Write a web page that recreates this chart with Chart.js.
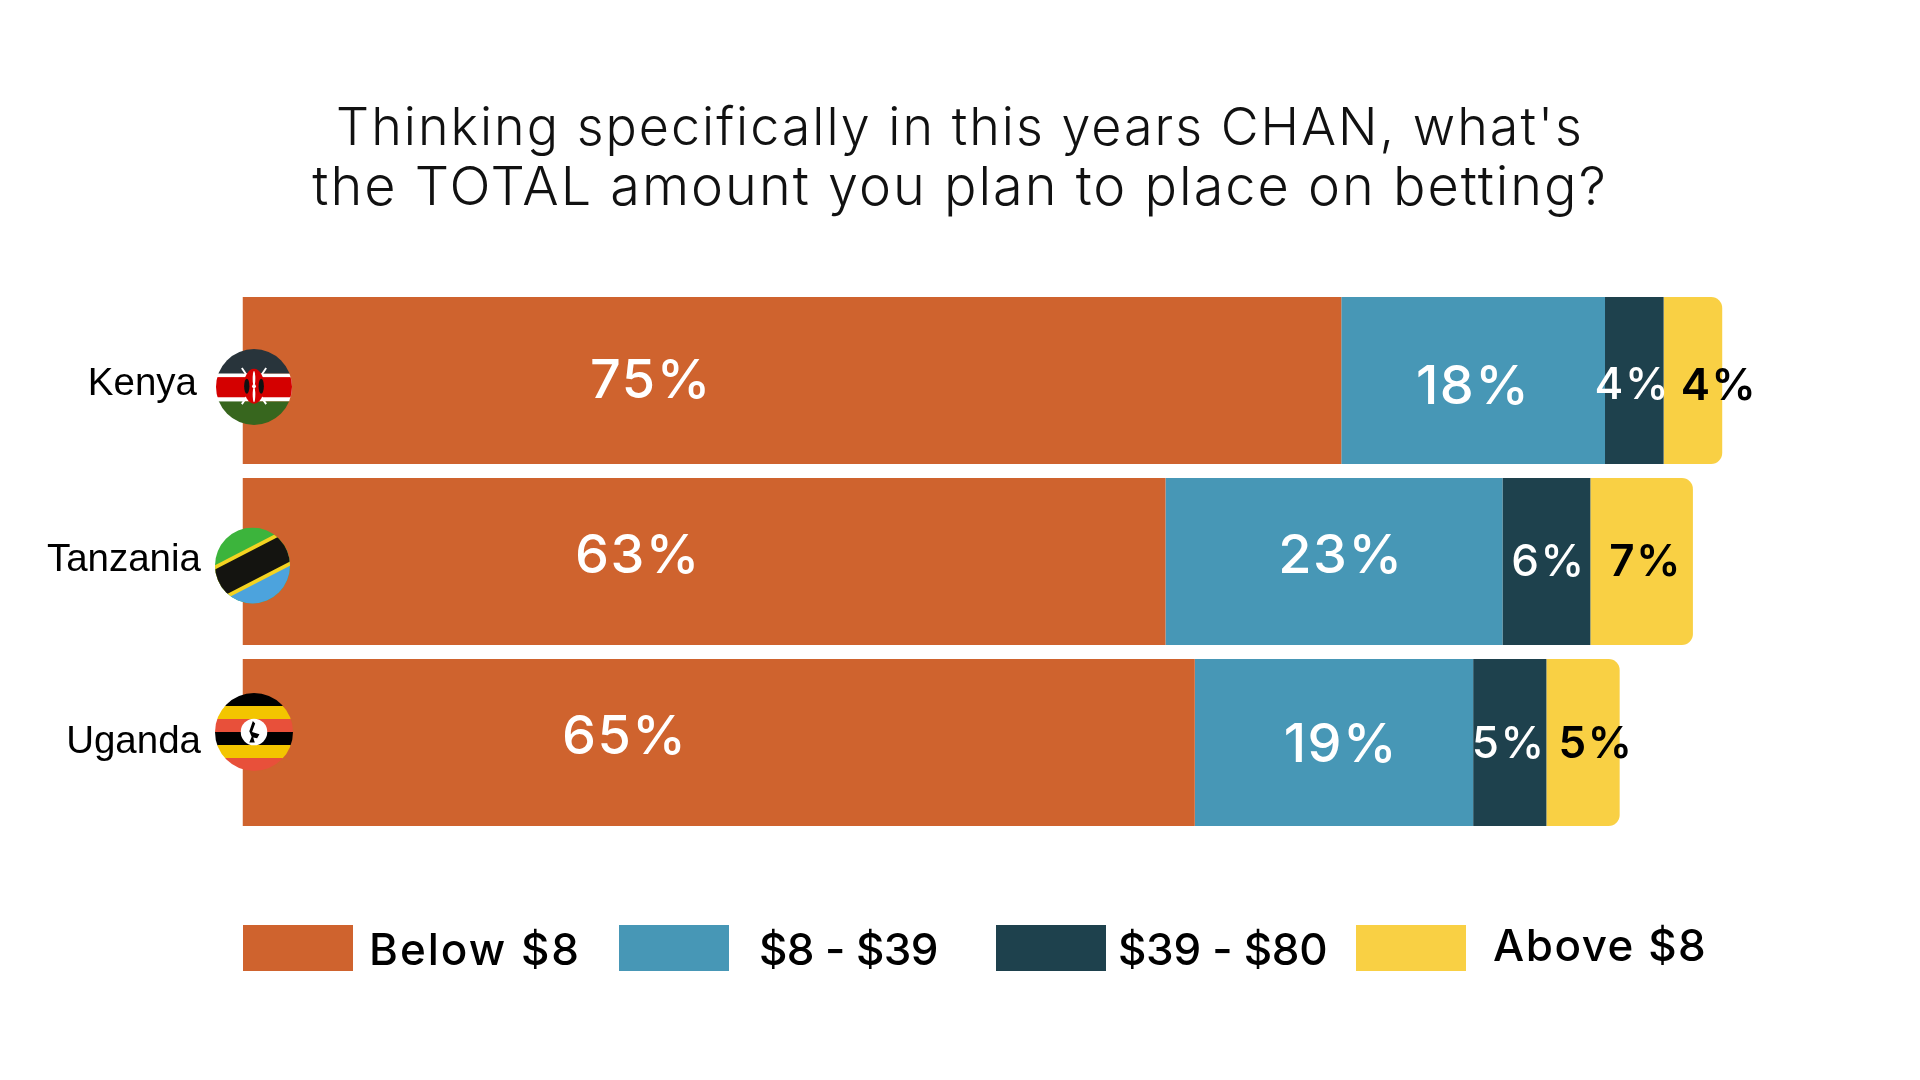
<!DOCTYPE html>
<html>
<head>
<meta charset="utf-8">
<title>CHAN betting</title>
<script src="https://cdn.jsdelivr.net/npm/chart.js@4/dist/chart.umd.min.js"></script>
<style>
    html, body { margin: 0; padding: 0; background: #fff; }
    canvas { display: block; }
</style>
</head>
<body>
<canvas id="betChart" width="1920" height="1080"></canvas>
<script>
// values
const countries = ['Kenya', 'Tanzania', 'Uganda'];
const bandNames = ['Below $8', '$8 - $39', '$39 - $80', 'Above $8'];
const below8 = [75, 63, 65];
const from8to39 = [18, 23, 19];
const from39to80 = [4, 6, 5];
const above8 = [4, 7, 5];

const bandColors = ['#CF632E', '#4797B6', '#1E414D', '#F9D044'];
const labelColors = ['#fff', '#fff', '#fff', '#000'];
const labelWeights = [500, 500, 500, 600];
const labelSizes = [54, 54, 44, 44];

// the labels are not centred in the source, so [dx, dy] per band per country
const labelNudge = [
    [[-141, 1], [0, 7], [-2, 5], [26, 6]],
    [[-66, -5], [7, -5], [2, 1], [4, 1]],
    [[-94, -5], [7, 3], [-1, 2], [13, 2]],
];
const tickNudge = [[-3, 3.5], [1, -1.5], [1, -0.5]];
const legendBoxX = [243, 619, 996, 1356];
const legendTextX = [369, 759, 1118, 1493];
const legendBaseline = [965, 965, 965, 961];
const legendSpacing = [2, -0.6, -0.3, 1.5];

const headingFont = 'Inter';

const flagPainters = {
    Kenya(ctx) {
        ctx.fillStyle = '#28343B'; ctx.fillRect(-1, -1, 2, 0.65);
        ctx.fillStyle = '#fff'; ctx.fillRect(-1, -0.35, 2, 0.73);
        ctx.fillStyle = '#D40000'; ctx.fillRect(-1, -0.26, 2, 0.53);
        ctx.fillStyle = '#37661E'; ctx.fillRect(-1, 0.38, 2, 0.62);
        // spears and shield
        ctx.strokeStyle = '#fff'; ctx.lineWidth = 0.05;
        ctx.beginPath();
        ctx.moveTo(-0.32, -0.5); ctx.lineTo(0.32, 0.45);
        ctx.moveTo(0.32, -0.5); ctx.lineTo(-0.32, 0.45);
        ctx.stroke();
        ctx.fillStyle = '#D40000';
        ctx.beginPath(); ctx.ellipse(0, -0.02, 0.27, 0.46, 0, 0, Math.PI * 2); ctx.fill();
        ctx.fillStyle = '#111';
        ctx.beginPath(); ctx.ellipse(-0.19, -0.02, 0.07, 0.2, 0, 0, Math.PI * 2); ctx.fill();
        ctx.beginPath(); ctx.ellipse(0.19, -0.02, 0.07, 0.2, 0, 0, Math.PI * 2); ctx.fill();
        ctx.fillStyle = '#fff';
        ctx.beginPath(); ctx.ellipse(0, -0.22, 0.035, 0.2, 0, 0, Math.PI * 2); ctx.fill();
        ctx.beginPath(); ctx.ellipse(0, 0.2, 0.035, 0.2, 0, 0, Math.PI * 2); ctx.fill();
        ctx.beginPath(); ctx.arc(0, -0.02, 0.05, 0, Math.PI * 2); ctx.fill();
    },
    Tanzania(ctx) {
        ctx.fillStyle = '#3CB43C'; ctx.fillRect(-1, -1, 2, 2);
        ctx.rotate(-27 * Math.PI / 180);
        ctx.fillStyle = '#4CA3DD'; ctx.fillRect(-2, 0, 4, 2);
        ctx.fillStyle = '#F4D321'; ctx.fillRect(-2, -0.46, 4, 0.92);
        ctx.fillStyle = '#141410'; ctx.fillRect(-2, -0.36, 4, 0.72);
    },
    Uganda(ctx) {
        const stripes = ['#000', '#F3C500', '#E8503A'];
        for (let i = 0; i < 6; i++) {
            ctx.fillStyle = stripes[i % 3];
            ctx.fillRect(-1, -1 + i / 3, 2, 1 / 3 + 0.01);
        }
        ctx.fillStyle = '#fff';
        ctx.beginPath(); ctx.arc(0, 0, 0.34, 0, Math.PI * 2); ctx.fill();
        ctx.fillStyle = '#000';
        ctx.beginPath();
        ctx.moveTo(-0.03, -0.28); ctx.lineTo(0.03, -0.22); ctx.lineTo(-0.05, 0);
        ctx.lineTo(0.14, 0.06); ctx.lineTo(0.08, 0.16); ctx.lineTo(-0.02, 0.14);
        ctx.lineTo(0.02, 0.27); ctx.lineTo(-0.12, 0.27); ctx.lineTo(-0.06, 0.12);
        ctx.lineTo(-0.12, -0.02);
        ctx.closePath();
        ctx.fill();
    },
};
const flagSpots = { Kenya: [254, 387, 38, 38], Tanzania: [252.5, 565.5, 37.5, 38], Uganda: [254, 732, 39, 39] };

// the heading face is wider than Inter, so open the title text up a little
const wideTitle = {
    id: 'wideTitle',
    afterLayout(chart) {
        chart.boxes.filter((box) => box.options && box.options.text).forEach((box) => {
            if (box.widened) return;
            const draw = box.draw.bind(box);
            box.draw = (area) => {
                box.ctx.letterSpacing = '2px';
                draw(area);
                box.ctx.letterSpacing = '0px';
            };
            box.widened = true;
        });
    },
};

// push the country tick labels to where the source has them
const tickLabelShift = {
    id: 'tickLabelShift',
    beforeDraw(chart) {
        chart.scales.y.getLabelItems().forEach((item, i) => {
            if (item.shifted) return;
            item.options.translation[0] += tickNudge[i][0];
            item.options.translation[1] += tickNudge[i][1];
            item.shifted = true;
        });
    },
};

const barLabels = {
    id: 'barLabels',
    afterDatasetsDraw(chart) {
        const ctx = chart.ctx;
        ctx.save();
        ctx.textAlign = 'center';
        ctx.textBaseline = 'middle';
        ctx.letterSpacing = '1.5px';
        chart.data.datasets.forEach((ds, d) => {
            chart.getDatasetMeta(d).data.forEach((bar, c) => {
                const mid = bar.getCenterPoint();
                ctx.font = `${labelWeights[d]} ${labelSizes[d]}px ${headingFont}`;
                ctx.fillStyle = labelColors[d];
                ctx.fillText(ds.data[c] + '%', mid.x + labelNudge[c][d][0], mid.y + labelNudge[c][d][1]);
            });
        });
        ctx.restore();
    },
};

const flags = {
    id: 'flags',
    afterDatasetsDraw(chart) {
        const ctx = chart.ctx;
        countries.forEach((name) => {
            const [x, y, rx, ry] = flagSpots[name];
            ctx.save();
            ctx.translate(x, y);
            ctx.scale(rx, ry);
            ctx.beginPath();
            ctx.arc(0, 0, 1, 0, Math.PI * 2);
            ctx.clip();
            flagPainters[name](ctx);
            ctx.restore();
        });
    },
};

const swatchLegend = {
    id: 'swatchLegend',
    afterDraw(chart) {
        const ctx = chart.ctx;
        ctx.save();
        ctx.textBaseline = 'alphabetic';
        ctx.font = `500 44px ${headingFont}`;
        chart.data.datasets.forEach((ds, i) => {
            ctx.fillStyle = ds.backgroundColor;
            ctx.fillRect(legendBoxX[i], 925, 110, 46);
            ctx.fillStyle = '#000';
            ctx.letterSpacing = legendSpacing[i] + 'px';
            ctx.fillText(ds.label, legendTextX[i], legendBaseline[i]);
        });
        ctx.restore();
    },
};

const seriesValues = [below8, from8to39, from39to80, above8];

new Chart(document.getElementById('betChart'), {
    type: 'bar',
    data: {
        labels: countries,
        datasets: seriesValues.map((values, i) => ({
            label: bandNames[i],
            data: values,
            backgroundColor: bandColors[i],
            borderWidth: 0,
            borderSkipped: false,
            borderRadius: i === 3 ? { topRight: 11, bottomRight: 11 } : 0,
        })),
    },
    options: {
        indexAxis: 'y',
        responsive: false,
        animation: false,
        layout: { padding: { left: 0, right: 0, top: 0, bottom: 247 } },
        datasets: { bar: { categoryPercentage: 1, barPercentage: 167 / 181 } },
        scales: {
            x: { display: false, stacked: true, min: 0, max: 114.5 },
            y: {
                stacked: true,
                afterFit(scale) { scale.width = 242.5; },
                border: { display: false },
                grid: { display: false, drawTicks: false },
                ticks: {
                    padding: 42.5,
                    color: '#000',
                    font: { family: 'Liberation Sans', size: 38.5 },
                },
            },
        },
        plugins: {
            legend: { display: false },
            tooltip: { enabled: false },
            title: {
                display: true,
                text: "Thinking specifically in this years CHAN, what's",
                color: '#111',
                font: { family: headingFont, size: 52, weight: 300, lineHeight: 60 / 52 },
                padding: { top: 99, bottom: 0 },
            },
            subtitle: {
                display: true,
                text: 'the TOTAL amount you plan to place on betting?',
                color: '#111',
                font: { family: headingFont, size: 54, weight: 300, lineHeight: 60 / 54 },
                padding: { top: 0, bottom: 71 },
            },
        },
    },
    plugins: [wideTitle, tickLabelShift, barLabels, flags, swatchLegend],
});
</script>
</body>
</html>
